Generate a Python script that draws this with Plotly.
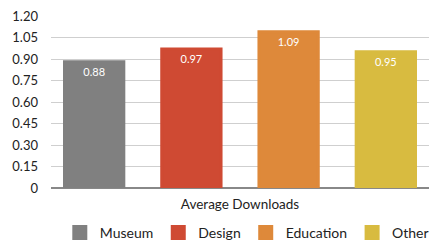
import plotly.graph_objects as go

categories = ["Average Downloads"]
series_names = ["Museum", "Design", "Education", "Other"]
series_values = [[0.88], [0.97], [1.09], [0.95]]
series_colors = ["#808080", "#cf4a33", "#de893a", "#d8bb40"]
y_tick_vals = [0, 0.15, 0.30, 0.45, 0.60, 0.75, 0.90, 1.05, 1.20]
y_tick_text = ["0", "0.15", "0.30", "0.45", "0.60", "0.75", "0.90", "1.05", "1.20"]

FONT = "Lato, 'Open Sans', sans-serif"

fig = go.Figure()
for name, vals, col in zip(series_names, series_values, series_colors):
    fig.add_trace(go.Bar(
        x=categories, y=vals, name=name,
        marker=dict(color=col, line=dict(width=3, color=col)),
        text=[f"{v:.2f}" for v in vals],
        textposition="inside", insidetextanchor="end",
        textfont=dict(color="white", size=11, family=FONT),
        textangle=0,
    ))

fig.update_layout(
    width=430, height=244,
    margin=dict(l=51, r=1, t=16, b=56, autoexpand=False),
    paper_bgcolor="white", plot_bgcolor="white",
    barmode="group", bargap=0, bargroupgap=0.39,
    font=dict(family=FONT, color="#222", size=13),
    showlegend=True,
    legend=dict(orientation="h", x=0.518, xanchor="center",
                yref="container", y=0.045, yanchor="middle",
                font=dict(size=14, family=FONT), traceorder="normal"),
    uniformtext=dict(minsize=8, mode="show"),
)
fig.update_xaxes(range=[-0.486, 0.486], showgrid=False, showline=False,
                 automargin=False,
                 ticks="", tickfont=dict(size=13.5, family=FONT, color="#222"),
                 ticklabelstandoff=6)
fig.update_yaxes(range=[0, 1.2], tickvals=y_tick_vals, ticktext=y_tick_text,
                 automargin=False,
                 showgrid=True, gridcolor="#cfcfcf", gridwidth=1,
                 zeroline=True, zerolinecolor="#888", zerolinewidth=2,
                 tickfont=dict(size=13, family=FONT, color="#222"),
                 ticks="", ticklabelstandoff=12)

fig.write_html("out.html", config={"displayModeBar": False},
               post_script="document.body.style.margin='0';document.body.style.overflow='hidden';")
